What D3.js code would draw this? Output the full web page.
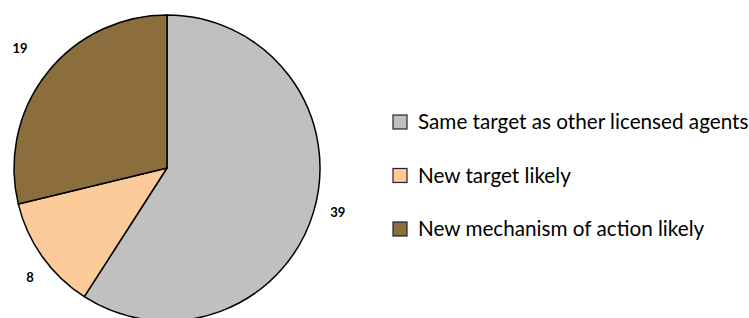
<!DOCTYPE html>
<html>
<head>
<meta charset="utf-8">
<script src="https://cdn.jsdelivr.net/npm/d3@7"></script>
<style>
  body { margin: 0; background: #fff; }
  svg { display: block; font-family: Lato, "Open Sans", sans-serif; }
</style>
</head>
<body>
<div id="chart"></div>
<script>
// slice data, clockwise from 12 o'clock
var categories = ['Same target as other licensed agents', 'New target likely', 'New mechanism of action likely'];
var values = [39, 8, 19];
var colors = ['#c0c0c0', '#fbcc99', '#8c6d3d'];

var width = 749, height = 318;
var cx = 167, cy = 168, radius = 153;

var svg = d3.select('#chart')
  .append('svg')
  .attr('width', width)
  .attr('height', height);

var pie = d3.pie().sort(null).value(d => d);
var arcs = pie(values);

var arc = d3.arc().innerRadius(0).outerRadius(radius);
var labelArc = d3.arc().innerRadius(178).outerRadius(178);
// small nudges so labels sit where the original put them
var nudge = [[0, -6], [8, 6], [-7, -10]];

var g = svg.append('g')
  .attr('transform', 'translate(' + cx + ',' + cy + ')');

g.selectAll('path.slice')
  .data(arcs)
  .enter()
  .append('path')
  .attr('class', 'slice')
  .attr('d', arc)
  .style('fill', (d, i) => colors[i])
  .style('stroke', '#000')
  .style('stroke-width', 1.5)
  .style('stroke-linejoin', 'round');

// value labels outside
g.selectAll('text.val')
  .data(arcs)
  .enter()
  .append('text')
  .attr('class', 'val')
  .attr('transform', (d, i) => {
    var c = labelArc.centroid(d);
    return 'translate(' + (c[0] + nudge[i][0]) + ',' + (c[1] + nudge[i][1]) + ')';
  })
  .attr('text-anchor', 'middle')
  .attr('dy', '0.35em')
  .style('font-size', '13px')
  .style('font-weight', 'bold')
  .text(d => d.data);

// legend
var legend = svg.append('g')
  .attr('transform', 'translate(393,115)');

var rows = legend.selectAll('g.row')
  .data(categories)
  .enter()
  .append('g')
  .attr('class', 'row')
  .attr('transform', (d, i) => 'translate(0,' + (i * 53.5) + ')');

rows.append('rect')
  .attr('width', 14)
  .attr('height', 14)
  .style('fill', (d, i) => colors[i])
  .style('stroke', '#222')
  .style('stroke-width', 1.2);

rows.append('text')
  .attr('x', 25)
  .attr('y', 14)
  .style('font-size', '20.7px')
  .style('fill', '#000')
  .text(d => d);
</script>
</body>
</html>
